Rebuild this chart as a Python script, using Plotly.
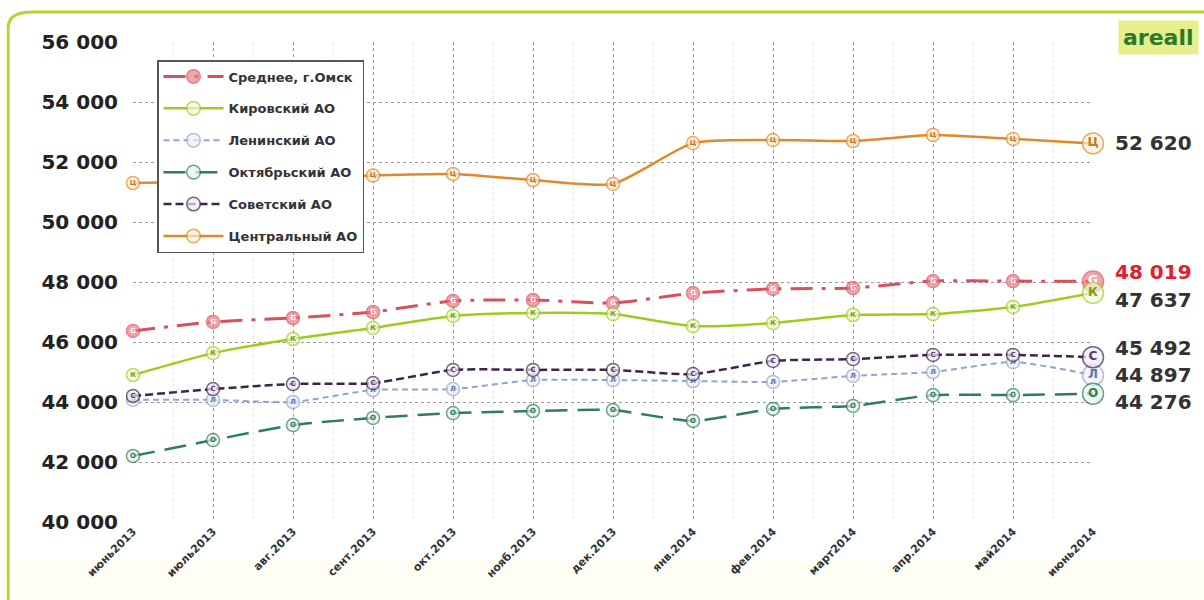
import plotly.graph_objects as go

months = ["июнь2013", "июль2013", "авг.2013", "сент.2013", "окт.2013", "нояб.2013",
          "дек.2013", "янв.2014", "фев.2014", "март2014", "апр.2014", "май2014", "июнь2014"]

avg_omsk = [46370, 46670, 46800, 47000, 47370, 47400, 47300, 47630, 47770, 47800, 48030, 48030, 48019]
kirovsky = [44900, 45630, 46100, 46470, 46870, 46970, 46930, 46530, 46630, 46900, 46930, 47170, 47637]
leninsky = [44070, 44070, 44000, 44400, 44430, 44730, 44730, 44700, 44670, 44870, 45000, 45330, 44897]
oktyabrsky = [42200, 42730, 43230, 43470, 43630, 43700, 43730, 43370, 43770, 43870, 44230, 44230, 44276]
sovetsky = [44200, 44430, 44600, 44630, 45070, 45070, 45070, 44930, 45370, 45430, 45570, 45570, 45492]
centralny = [51300, 51350, 51450, 51550, 51600, 51400, 51270, 52630, 52730, 52700, 52900, 52770, 52620]

y_ticks = [40000, 42000, 44000, 46000, 48000, 50000, 52000, 54000, 56000]
y_tick_labels = ["40 000", "42 000", "44 000", "46 000", "48 000", "50 000", "52 000", "54 000", "56 000"]

series = [
    dict(name="Среднее, г.Омск", y=avg_omsk, letter="G", color="#d9505c", fill="#ec8088",
         tcolor="#ffffff", dash="22px,9px,4px,9px", width=3, lab_color="#e0202e", shift=9),
    dict(name="Кировский АО", y=kirovsky, letter="К", color="#9ccc1e", fill="#f3f8d8",
         tcolor="#7aa010", dash="solid", width=2.5, lab_color="#333333", shift=-7),
    dict(name="Ленинский АО", y=leninsky, letter="Л", color="#8ea6c9", fill="#eef2f9",
         tcolor="#5a78a8", dash="6px,4px", width=2, lab_color="#333333", shift=0),
    dict(name="Октябрьский АО", y=oktyabrsky, letter="О", color="#2f7d5a", fill="#e6f3ec",
         tcolor="#2f7d5a", dash="22px,10px", width=2.5, lab_color="#333333", shift=-8),
    dict(name="Советский АО", y=sovetsky, letter="С", color="#3d2449", fill="#f0eaf4",
         tcolor="#5a3a70", dash="8px,4px", width=2.5, lab_color="#333333", shift=9),
    dict(name="Центральный АО", y=centralny, letter="Ц", color="#e0882a", fill="#fcefd8",
         tcolor="#c87820", dash="solid", width=2.5, lab_color="#333333", shift=0),
]

x = list(range(len(months)))
n = len(months)

fig = go.Figure()
for s in series:
    sizes = [13] * (n - 1) + [21]
    tsizes = [7] * (n - 1) + [12]
    fig.add_trace(go.Scatter(
        x=x, y=s["y"], name=s["name"], mode="lines+markers+text",
        text=[s["letter"]] * n, textposition="middle center",
        textfont=dict(size=tsizes, color=s["tcolor"], family="DejaVu Sans", weight="bold"),
        line=dict(color=s["color"], width=s["width"], dash=s["dash"], shape="spline", smoothing=0.6),
        marker=dict(size=sizes, color=s["fill"], line=dict(color=s["color"], width=1.5)),
        cliponaxis=False, legendgroup=s["name"],
    ))
    fig.add_annotation(
        x=x[-1], y=s["y"][-1], text=f"{s['y'][-1]:,}".replace(",", " "),
        xanchor="left", yanchor="middle", xshift=20, yshift=s["shift"], showarrow=False,
        font=dict(size=20, color=s["lab_color"], family="DejaVu Sans", weight="bold"),
    )

# outer frame
fig.add_shape(type="path", xref="paper", yref="paper",
              path="M -0.130,-0.2 L -0.130,1.03 Q -0.130,1.0625 -0.105,1.0625 L 1.2,1.0625",
              line=dict(color="#b8d432", width=3))
# faint cream band at the bottom
fig.add_shape(type="rect", xref="paper", yref="paper", x0=-0.128, x1=1.2, y0=-0.163, y1=-0.08,
              fillcolor="#fefef5", line=dict(width=0), layer="below")

fig.add_annotation(xref="paper", yref="paper", x=1.11, y=1.045, text="<b>areall</b>",
                   showarrow=False, xanchor="right", yanchor="top",
                   font=dict(size=22, color="#2b7a2b", family="DejaVu Sans"),
                   bgcolor="#e6ef8c", borderpad=4)

fig.update_layout(
    width=1204, height=600,
    margin=dict(l=133, r=111, t=42, b=78),
    paper_bgcolor="white", plot_bgcolor="white",
    showlegend=True,
    legend=dict(x=0.025, y=0.9625, xanchor="left", yanchor="top",
                bgcolor="white", bordercolor="#555555", borderwidth=1.5,
                font=dict(size=13, color="#333333", family="DejaVu Sans", weight="bold"),
                tracegroupgap=12, itemwidth=60),
    xaxis=dict(range=[0, n - 1], tickmode="array", tickvals=x, ticktext=months,
               tickangle=-45, showline=False, zeroline=False,
               showgrid=True, gridcolor="#9a9a9a", griddash="dot", gridwidth=1,
               tickfont=dict(size=11, color="#333333", family="DejaVu Sans", weight="bold"),
               minor=dict(dtick=0.5, showgrid=True, gridcolor="#e8e8e8", gridwidth=1)),
    yaxis=dict(range=[40000, 56000], tickmode="array", tickvals=y_ticks, ticktext=y_tick_labels,
               showline=False, zeroline=False, ticklabelstandoff=14,
               showgrid=True, gridcolor="#9a9a9a", griddash="dot", gridwidth=1,
               tickfont=dict(size=20, color="#222222", family="DejaVu Sans", weight="bold")),
)

fig.write_html("out.html")
